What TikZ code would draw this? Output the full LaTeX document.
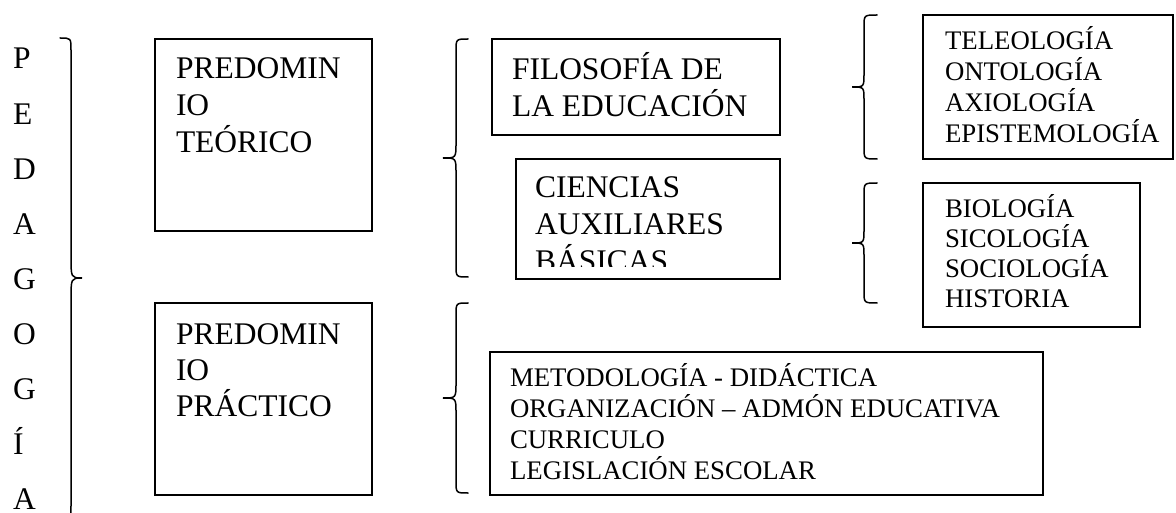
\documentclass[tikz,border=0pt]{standalone}
\usepackage{fontspec}
\setmainfont{Liberation Serif}
\newcommand\bigtxt{\fontsize{31.5}{37}\selectfont}
\newcommand\smtxt{\fontsize{26.8}{31}\selectfont}
\newcommand\stackl[2]{\parbox[t]{25cm}{\raggedright\baselineskip=#1pt\relax #2}}
% brace: tip x, spine x, point x, y top, y bottom, tip radius, middle radius
\newcommand\brc[7]{%
  \draw[bracestyle] (#1,#4) .. controls (#2,#4) .. (#2,{#4+#6})
    -- (#2,{(#4+#5)/2-#7}) .. controls (#2,{(#4+#5)/2}) .. (#3,{(#4+#5)/2})
    .. controls (#2,{(#4+#5)/2}) .. (#2,{(#4+#5)/2+#7})
    -- (#2,{#5-#6}) .. controls (#2,#5) .. (#1,#5);}
\begin{document}
\begin{tikzpicture}[x=1pt,y=-1pt,
  box/.style={draw=black,line width=1.4pt,rectangle,inner sep=0pt},
  txt/.style={anchor=base west,inner sep=0pt,outer sep=0pt},
  bracestyle/.style={draw=black,line width=1.5pt,line cap=round}]
\useasboundingbox (0,0) rectangle (1176,513);
\clip (0,0) rectangle (1176,513);
% vertical title
\node[txt,font=\bigtxt] (ped) at (13,69) {\stackl{55.1}{P\\E\\D\\A\\G\\O\\G\\Í\\A}};
% braces
\brc{60}{71}{82}{38}{518}{12}{22}
\brc{468}{456}{443}{39}{277}{12}{15}
\brc{877}{864}{852}{15}{159}{12}{13}
\brc{877}{864}{852}{183}{303}{12}{13}
\brc{468}{456}{443}{303}{493}{12}{15}
% boxes
\node[box,minimum width=217pt,minimum height=192pt] (teo) at (263.5,135) {};
\node[box,minimum width=217pt,minimum height=192pt] (prac) at (263.5,399) {};
\node[box,minimum width=288pt,minimum height=96pt] (fil) at (636,87) {};
\node[box,minimum width=264pt,minimum height=120pt] (cie) at (648,219) {};
\node[box,minimum width=250pt,minimum height=144pt] (tel) at (1048,87) {};
\node[box,minimum width=217pt,minimum height=144pt] (bio) at (1031.5,255) {};
\node[box,minimum width=553pt,minimum height=143pt] (met) at (766.5,423.5) {};
% texts
\node[txt,font=\bigtxt] (teot) at (176,79) {\stackl{37}{PREDOMIN\\IO\\TEÓRICO}};
\node[txt,font=\bigtxt] (pract) at (176,344) {\stackl{36.5}{PREDOMIN\\IO\\PRÁCTICO}};
\node[txt,font=\bigtxt] (filt) at (512,80) {\stackl{37}{FILOSOFÍA DE\\LA EDUCACIÓN}};
\begin{scope}
\clip (517,160) rectangle (779,267);
\node[txt,font=\bigtxt] (ciet) at (535,198) {\stackl{37}{CIENCIAS\\AUXILIARES\\BÁSICAS}};
\end{scope}
\node[txt,font=\smtxt] (telt) at (945,50) {\stackl{30.9}{TELEOLOGÍA\\ONTOLOGÍA\\AXIOLOGÍA\\EPISTEMOLOGÍA}};
\node[txt,font=\smtxt] (biot) at (945,218) {\stackl{30}{BIOLOGÍA\\SICOLOGÍA\\SOCIOLOGÍA\\HISTORIA}};
\node[txt,font=\smtxt] (mett) at (510,386) {\stackl{31}{METODOLOGÍA - DIDÁCTICA\\ORGANIZACIÓN – ADMÓN EDUCATIVA\\CURRICULO\\LEGISLACIÓN ESCOLAR}};
\end{tikzpicture}
\end{document}
